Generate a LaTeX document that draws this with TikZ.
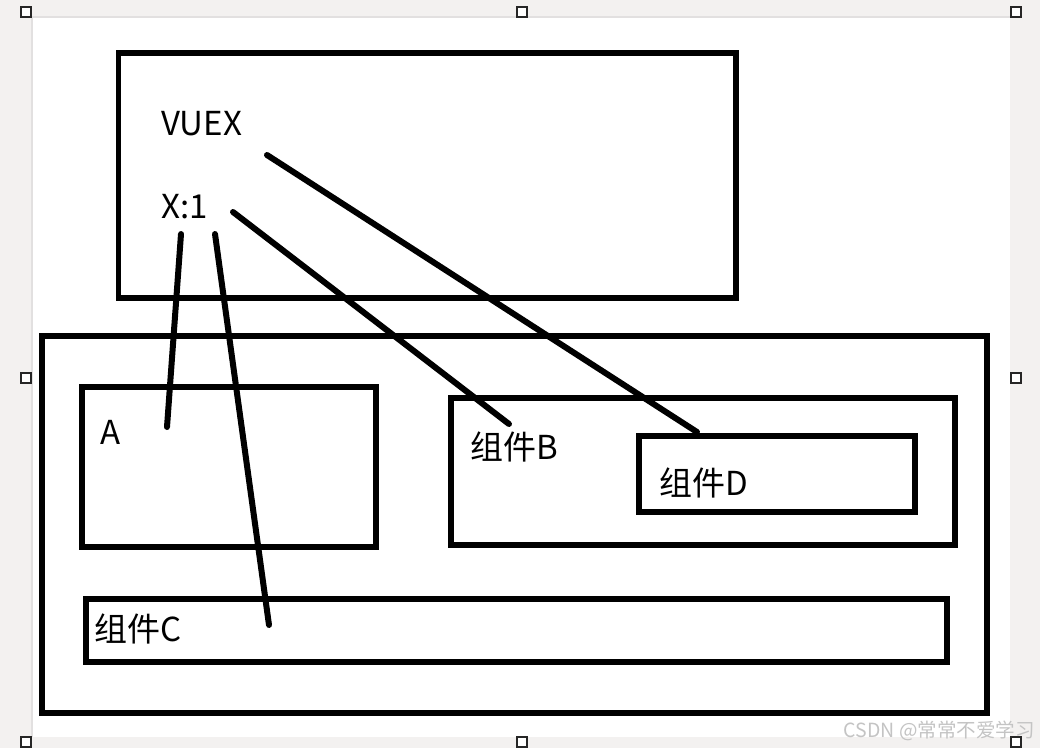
\documentclass[tikz,border=0pt]{standalone}
\usepackage{fontspec}
\setmainfont{Noto Sans CJK SC}
\begin{document}
\begin{tikzpicture}[x=1pt,y=-1pt,
  frame/.style={draw=black,line width=5.5pt,inner sep=0pt,outer sep=0pt,anchor=north west,fill=none},
  lbl/.style={inner sep=0pt,anchor=base west,font=\fontsize{33}{37}\selectfont},
  wire/.style={line width=6pt,line cap=round},
  handle/.style={draw=black!85,line width=2pt,fill=white,minimum size=10pt,inner sep=0pt}]
\definecolor{bggrey}{HTML}{F3F1F0}
\definecolor{edgegrey}{HTML}{E2E0E0}
\definecolor{wmgrey}{HTML}{C4C4C4}
\useasboundingbox (0,0) rectangle (1040,748);
\fill[bggrey] (0,0) rectangle (1040,748);
\fill[white] (32,17) rectangle (1010,737);
\draw[edgegrey,line width=1.5pt] (32,737) -- (32,17) -- (1010,17);
% boxes
\node[frame,minimum width=617.5pt,minimum height=245pt] (vuex) at (118.5,53) {};
\node[frame,minimum width=945pt,minimum height=377pt] (outer) at (42,336) {};
\node[frame,minimum width=294pt,minimum height=160pt] (boxA) at (82,387) {};
\node[frame,minimum width=504pt,minimum height=147pt] (boxB) at (451,398) {};
\node[frame,minimum width=276pt,minimum height=76pt] (boxD) at (639,436) {};
\node[frame,minimum width=861pt,minimum height=63pt] (boxC) at (86,599) {};
% labels
\node[lbl] (tV) at (161,135) {VUEX};
\node[lbl] (tX) at (161,218) {X:1};
\node[lbl] (tA) at (100,444) {A};
\node[lbl] (tB) at (470,459) {组件B};
\node[lbl] (tD) at (659,495) {组件D};
\node[lbl] (tC) at (94,641) {组件C};
% connector ends
\coordinate (v1) at (267,155);
\coordinate (x1) at (233,212);
\coordinate (x2) at (181,234);
\coordinate (x3) at (215,234);
\coordinate (eD) at (697,432);
\coordinate (eB) at (509,424);
\coordinate (eA) at (167,427);
\coordinate (eC) at (269,625);
\draw[wire] (v1) -- (eD);
\draw[wire] (x1) -- (eB);
\draw[wire] (x2) -- (eA);
\draw[wire] (x3) -- (eC);
% handles
\node[handle] (h1) at (26,12) {};
\node[handle] (h2) at (522,12) {};
\node[handle] (h3) at (1016,12) {};
\node[handle] (h4) at (26,378) {};
\node[handle] (h5) at (1016,378) {};
\node[handle] (h6) at (26,742) {};
\node[handle] (h7) at (522,742) {};
\node[handle] (h8) at (1016,742) {};
% watermark
\node[inner sep=0pt,anchor=base east,text=wmgrey,font=\fontsize{19.5}{22}\selectfont] (wm) at (1035,737) {CSDN @常常不爱学习};
\end{tikzpicture}
\end{document}
